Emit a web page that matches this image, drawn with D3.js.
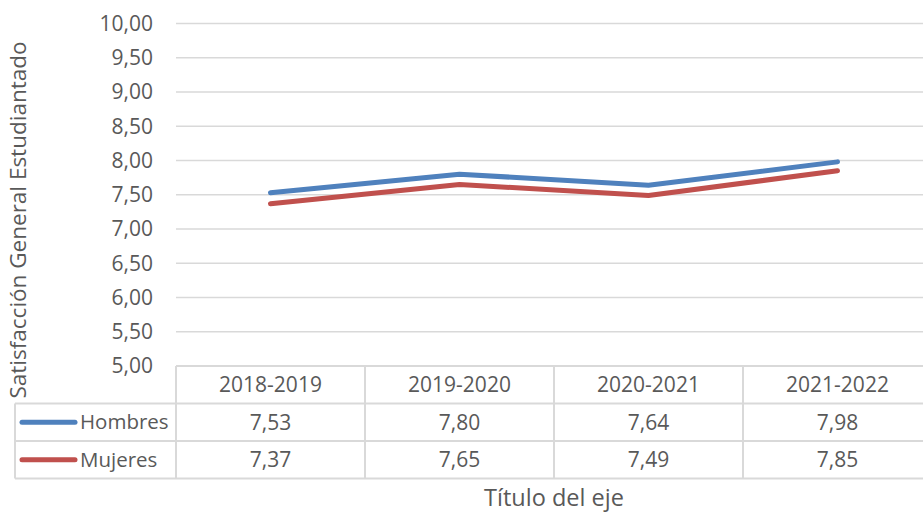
<!DOCTYPE html>
<html><head><meta charset="utf-8">
<script src="https://cdn.jsdelivr.net/npm/d3@7"></script>
<style>body{margin:0;background:#fff;} svg{display:block;} text{font-family:"Open Sans",sans-serif;fill:#595959;}</style>
</head><body>
<svg id="c" width="923" height="514"></svg>
<script>
const categories = ["2018-2019","2019-2020","2020-2021","2021-2022"];
const hombres = [7.53, 7.80, 7.64, 7.98];
const mujeres = [7.37, 7.65, 7.49, 7.85];
const yTicks = [5,5.5,6,6.5,7,7.5,8,8.5,9,9.5,10];
const seriesNames = ["Hombres","Mujeres"];
const seriesColors = ["#4F81BD","#C0504D"];
const yTitle = "Satisfacción General Estudiantado";
const xTitle = "Título del eje";

const series = [hombres, mujeres];
const svg = d3.select("#c");
const L = 176, R = 932, T = 23.5, B = 366;
const rowH = 37.5, legL = 15;
const fmt = v => d3.format(".2f")(v).replace(".", ",");
const grid = "#D9D9D9";
const fs = 21;

const x = d3.scaleBand().domain(categories).range([L, R]);
const y = d3.scaleLinear().domain([5, 10]).range([B, T]);

// gridlines
svg.append("g").selectAll("line").data(yTicks).join("line")
  .attr("x1", L).attr("x2", R).attr("y1", d => y(d)).attr("y2", d => y(d))
  .attr("stroke", grid).attr("stroke-width", 1.5);

// y tick labels
svg.append("g").selectAll("text").data(yTicks).join("text")
  .attr("x", 153).attr("y", d => y(d)).attr("dy", "0.35em")
  .attr("text-anchor", "end").attr("font-size", fs).text(d => fmt(d));

// y title
svg.append("text").attr("transform", `translate(26,220) rotate(-90)`)
  .attr("text-anchor", "middle").attr("font-size", 22.5).text(yTitle);

// lines
const line = d3.line().x((d, i) => x(categories[i]) + x.bandwidth() / 2).y(d => y(d));
series.forEach((s, k) => {
  svg.append("path").datum(s).attr("d", line).attr("fill", "none")
    .attr("stroke", seriesColors[k]).attr("stroke-width", 5)
    .attr("stroke-linecap", "round").attr("stroke-linejoin", "round");
});

// table
const tb = svg.append("g");
const rowsY = [B, B + rowH, B + 2 * rowH, B + 3 * rowH];
tb.append("line").attr("x1", L).attr("x2", R).attr("y1", rowsY[0]).attr("y2", rowsY[0]).attr("stroke", grid).attr("stroke-width", 2);
[1, 2, 3].forEach(i => tb.append("line").attr("x1", legL).attr("x2", R).attr("y1", rowsY[i]).attr("y2", rowsY[i]).attr("stroke", grid).attr("stroke-width", 2));
tb.append("line").attr("x1", legL).attr("x2", legL).attr("y1", rowsY[1]).attr("y2", rowsY[3]).attr("stroke", grid).attr("stroke-width", 2);
categories.forEach(c => tb.append("line").attr("x1", x(c)).attr("x2", x(c)).attr("y1", rowsY[0]).attr("y2", rowsY[3]).attr("stroke", grid).attr("stroke-width", 2));

tb.selectAll("text.h").data(categories).join("text").attr("class", "h")
  .attr("x", d => x(d) + x.bandwidth() / 2).attr("y", rowsY[0] + rowH / 2).attr("dy", "0.35em")
  .attr("text-anchor", "middle").attr("font-size", fs).text(d => d);

series.forEach((s, k) => {
  const cy = rowsY[k + 1] + rowH / 2;
  tb.append("line").attr("x1", 22).attr("x2", 75).attr("y1", cy).attr("y2", cy)
    .attr("stroke", seriesColors[k]).attr("stroke-width", 5).attr("stroke-linecap", "round");
  tb.append("text").attr("x", 80).attr("y", cy).attr("dy", "0.35em").attr("font-size", 20.5).text(seriesNames[k]);
  tb.selectAll(null).data(s).join("text")
    .attr("x", (d, i) => x(categories[i]) + x.bandwidth() / 2).attr("y", cy).attr("dy", "0.35em")
    .attr("text-anchor", "middle").attr("font-size", fs).text(d => fmt(d));
});

svg.append("text").attr("x", (L + R) / 2).attr("y", 498).attr("dy", "0.35em")
  .attr("text-anchor", "middle").attr("font-size", 23.5).text(xTitle);
</script>
</body></html>
